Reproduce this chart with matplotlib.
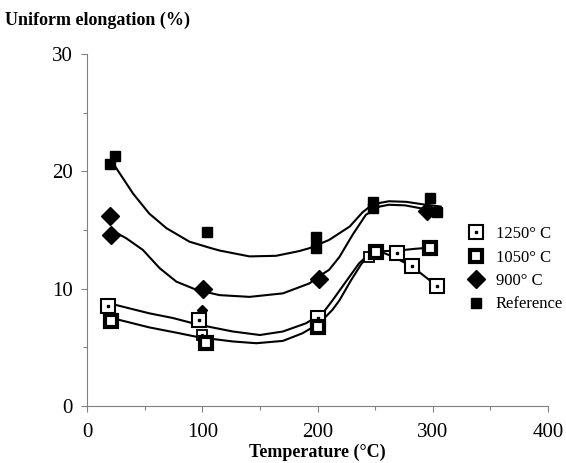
import matplotlib.pyplot as plt
from matplotlib.lines import Line2D
from matplotlib.ticker import MultipleLocator

plt.rcParams['font.family'] = ['Liberation Serif', 'DejaVu Serif']

# measured points
temp_ref = [20, 24, 104, 199, 199, 248, 248, 298, 304]
elong_ref = [20.6, 21.3, 14.8, 14.4, 13.5, 17.4, 16.9, 17.7, 16.5]

temp_900 = [20, 21, 101, 201, 295]
elong_900 = [16.2, 14.6, 10.0, 10.8, 16.6]
temp_900_small = [100]
elong_900_small = [8.2]

temp_1250 = [18, 97, 200, 269, 282, 304]
elong_1250 = [8.55, 7.3, 7.5, 13.0, 11.9, 10.25]
temp_1250_small = [100, 245]
elong_1250_small = [6.05, 12.7]

temp_1050 = [21, 103, 200, 251, 298]
elong_1050 = [7.25, 5.4, 6.7, 13.1, 13.5]

# trend curves
ref_curve_t = [22.5, 40, 54, 69, 89, 106, 115, 141, 164, 184, 193, 210, 228, 239, 248, 262, 277, 294, 307]
ref_curve_e = [20.7, 18.1, 16.4, 15.15, 14.0, 13.5, 13.25, 12.75, 12.8, 13.2, 13.45, 14.15, 15.3, 16.5, 17.2, 17.45, 17.4, 17.15, 17.0]

c900_t = [21, 34, 48.5, 63, 77.5, 95, 115, 141, 170, 193, 202, 210, 219, 230.5, 242, 254, 262, 276, 295]
c900_e = [15.0, 14.3, 13.3, 11.75, 10.6, 9.9, 9.45, 9.3, 9.6, 10.45, 11.1, 11.6, 12.7, 14.6, 16.3, 17.0, 17.15, 17.1, 16.75]

c1250_t = [25.5, 54, 74.5, 92, 106, 126.5, 150, 170, 190, 204.5, 213, 227.6, 236, 242, 248, 256, 265, 282, 304]
c1250_e = [8.6, 7.9, 7.5, 7.05, 6.75, 6.35, 6.05, 6.35, 7.05, 7.9, 9.0, 11.0, 12.15, 12.7, 13.05, 13.1, 12.75, 11.9, 10.2]

c1050_t = [25.5, 54, 77.5, 95, 106, 126.5, 147, 170, 187, 201.6, 213, 219, 229, 238, 246, 258, 270, 285, 298]
c1050_e = [7.4, 6.7, 6.25, 5.9, 5.75, 5.5, 5.35, 5.55, 6.2, 7.05, 8.2, 9.0, 10.7, 12.1, 13.0, 13.2, 13.25, 13.4, 13.5]

fig = plt.figure(figsize=(5.66, 4.63), dpi=100)
ax = fig.add_axes([87 / 566, 57 / 463, 461 / 566, 352 / 463])

# curves
for t, e in [(ref_curve_t, ref_curve_e), (c900_t, c900_e), (c1250_t, c1250_e), (c1050_t, c1050_e)]:
    ax.plot(t, e, color='black', lw=1.5, zorder=1, solid_joinstyle='round', solid_capstyle='round')

# markers
ax.plot(temp_ref, elong_ref, 's', ms=7, color='black', ls='none', zorder=3)
ax.plot(temp_900, elong_900, 'D', ms=9, color='black', ls='none', zorder=3)
ax.plot(temp_900_small, elong_900_small, 'D', ms=5, color='black', ls='none', zorder=3)
ax.plot(temp_1250, elong_1250, 's', ms=10, mfc='white', mec='black', mew=1.5, ls='none', zorder=3)
ax.plot(temp_1250, elong_1250, 's', ms=1.5, color='black', ls='none', zorder=4)
ax.plot(temp_1250_small, elong_1250_small, 's', ms=7, mfc='white', mec='black', mew=1.3, ls='none', zorder=3)
ax.plot(temp_1250_small, elong_1250_small, 's', ms=1.2, color='black', ls='none', zorder=4)
ax.plot(temp_1050, elong_1050, 's', ms=9, mfc='white', mec='black', mew=3, ls='none', zorder=3)

ax.set_xlim(0, 400)
ax.set_ylim(0, 30)
ax.xaxis.set_major_locator(MultipleLocator(100))
ax.xaxis.set_minor_locator(MultipleLocator(50))
ax.yaxis.set_major_locator(MultipleLocator(10))
ax.yaxis.set_minor_locator(MultipleLocator(5))
for s in ['top', 'right']:
    ax.spines[s].set_visible(False)
for s in ['left', 'bottom']:
    ax.spines[s].set_color('#808080')
    ax.spines[s].set_linewidth(0.8)
ax.tick_params(which='both', direction='out', color='#808080', width=0.8, labelsize=15)
ax.tick_params(which='major', length=4)
ax.tick_params(which='minor', length=3)
ax.tick_params(axis='x', pad=8)
ax.tick_params(axis='y', pad=6)

fig.text(5 / 566, 1 - 20 / 463, 'Uniform elongation (%)', fontsize=13, fontweight='bold', va='center', ha='left')
fig.text(317 / 566, 1 - 452 / 463, 'Temperature (\u00b0C)', fontsize=13, fontweight='bold', va='center', ha='center')

# legend
h1250 = (Line2D([], [], marker='s', ms=10, mfc='white', mec='black', mew=1.5, ls='none'),
         Line2D([], [], marker='s', ms=1.5, color='black', ls='none'))
h1050 = Line2D([], [], marker='s', ms=9, mfc='white', mec='black', mew=3, ls='none')
h900 = Line2D([], [], marker='D', ms=9, color='black', ls='none')
href = Line2D([], [], marker='s', ms=7, color='black', ls='none')
fig.legend([h1250, h1050, h900, href], ['1250\u00b0 C', '1050\u00b0 C', '900\u00b0 C', 'Reference'],
           loc='upper left', bbox_to_anchor=(466 / 566, 1 - 226 / 463), frameon=False,
           fontsize=12, handlelength=1.2, handletextpad=0.6, labelspacing=0.45, borderpad=0,
           borderaxespad=0)

fig.savefig('out.png', dpi=100)
